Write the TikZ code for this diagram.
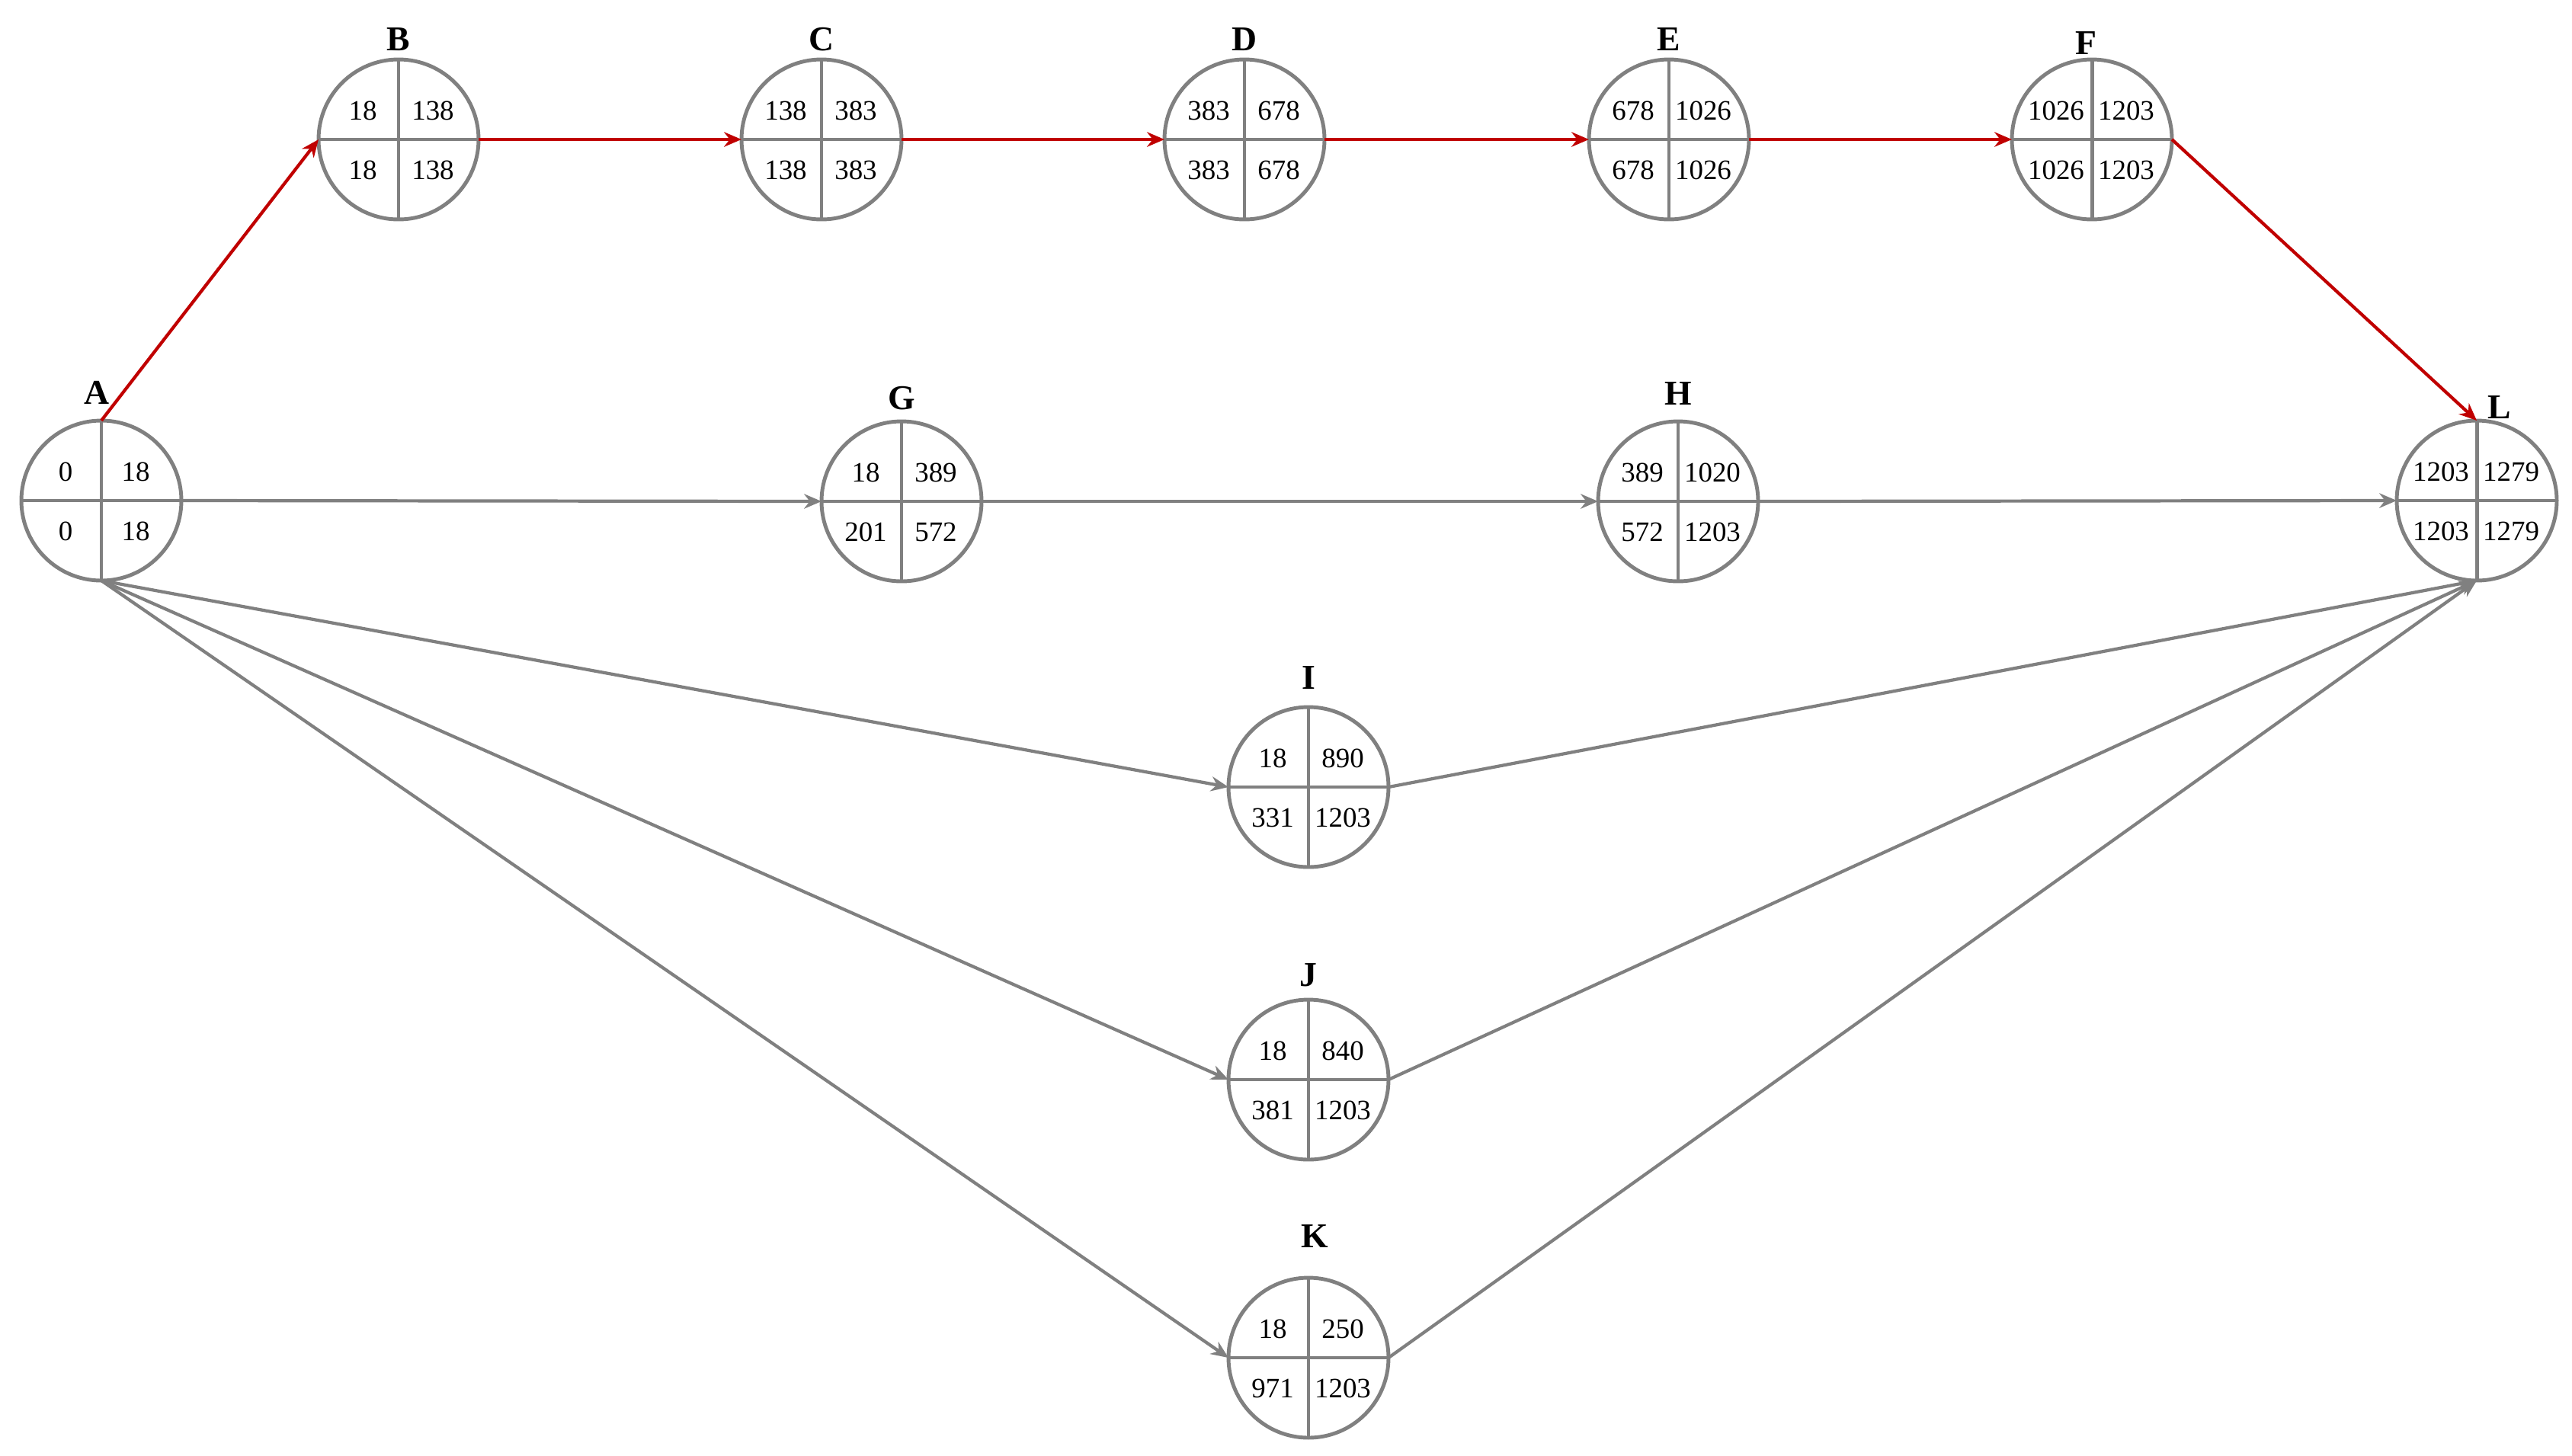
\documentclass[tikz,border=0pt]{standalone}
\usepackage{fontspec}
\setmainfont{Liberation Serif}
\usepackage{xcolor}
\usepackage{tikz}
\usetikzlibrary{arrows.meta, positioning}

\definecolor{netgray}{RGB}{128,128,128}
\definecolor{critred}{RGB}{192,0,0}

\begin{document}
\begin{tikzpicture}
\tikzstyle{event} = [circle, draw=netgray, line width=1.4pt, minimum size=2.1cm, inner sep=0pt, outer sep=0pt]
\tikzstyle{divider} = [draw=netgray, line width=1.4pt]
\tikzstyle{num} = [font=\fontsize{10.5}{12}\selectfont, inner sep=0pt]
\tikzstyle{lbl} = [font=\fontsize{13}{15}\selectfont\bfseries, inner sep=0pt]
\tikzstyle{arrow} = [line width=1.2pt, draw=netgray, -{Stealth[length=6.5pt,width=5.5pt]}]
\tikzstyle{critical} = [arrow, draw=critred]

\useasboundingbox (0,0) rectangle (33.75,-19.10);

% events: name / x / y / ES / EF / LS / LF / label shift
\foreach \n/\x/\y/\es/\ef/\ls/\lf/\lx/\ly in {
  A/1.33/-6.57/0/18/0/18/-0.06/1.42,
  B/5.23/-1.83/18/138/18/138/0/1.31,
  C/10.78/-1.83/138/383/138/383/0/1.31,
  D/16.33/-1.83/383/678/383/678/0/1.31,
  E/21.90/-1.83/678/1026/678/1026/0/1.31,
  F/27.45/-1.83/1026/1203/1026/1203/-0.08/1.26,
  G/11.83/-6.58/18/389/201/572/0/1.35,
  H/22.02/-6.58/389/1020/572/1203/0/1.41,
  I/17.17/-10.33/18/890/331/1203/0/1.43,
  J/17.17/-14.17/18/840/381/1203/0/1.37,
  K/17.17/-17.82/18/250/971/1203/0.08/1.59,
  L/32.50/-6.57/1203/1279/1203/1279/0.30/1.22}
{
  \node (\n) [event] at (\x,\y) {};
  \draw [divider] (\n.north) -- (\n.south);
  \draw [divider] (\n.west) -- (\n.east);
  \node [num] at ([shift={(-0.47,0.38)}]\n.center) {\es};
  \node [num] at ([shift={(0.45,0.38)}]\n.center) {\ef};
  \node [num] at ([shift={(-0.47,-0.40)}]\n.center) {\ls};
  \node [num] at ([shift={(0.45,-0.40)}]\n.center) {\lf};
  \node (\n-lbl) [lbl] at ([shift={(\lx,\ly)}]\n.center) {\n};
}

% critical path
\draw [critical] (A.north) -- (B.west);
\draw [critical] (B.east) -- (C.west);
\draw [critical] (C.east) -- (D.west);
\draw [critical] (D.east) -- (E.west);
\draw [critical] (E.east) -- (F.west);
\draw [critical] (F.east) -- (L.north);

% other activities
\draw [arrow] (A.east) -- (G.west);
\draw [arrow] (G.east) -- (H.west);
\draw [arrow] (H.east) -- (L.west);
\draw [arrow] (A.south) -- (I.west);
\draw [arrow] (A.south) -- (J.west);
\draw [arrow] (A.south) -- (K.west);
\draw [arrow] (I.east) -- (L.south);
\draw [arrow] (J.east) -- (L.south);
\draw [arrow] (K.east) -- (L.south);
\end{tikzpicture}
\end{document}
